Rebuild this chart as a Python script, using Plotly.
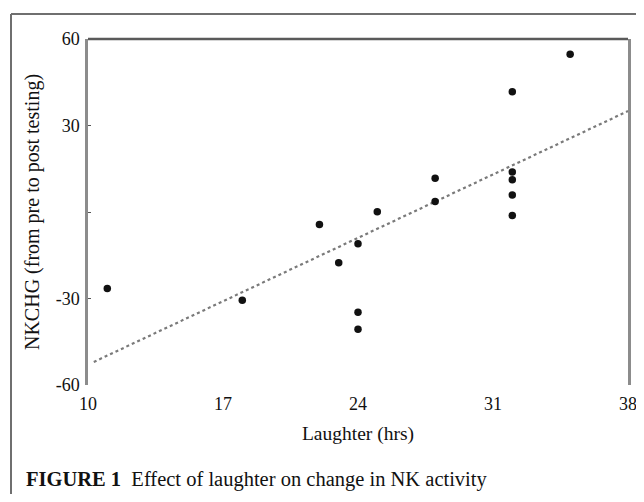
import plotly.graph_objects as go

# Data
laughter_hrs = [11, 18, 22, 23, 24, 24, 24, 25, 28, 28, 32, 32, 32, 32, 32, 35]
nkchg = [-26.5, -30.6, -4.3, -17.6, -11.0, -34.8, -40.7, 0.1, 11.7, 3.6,
         13.9, 11.2, 5.9, -1.2, 41.7, 54.7]
fit_x = [10.3, 38]
fit_y = [-52, 35]
x_ticks = [10, 17, 24, 31, 38]
y_ticks = [-60, -30, 0, 30, 60]
y_ticktext = ["-60", "-30", "", "30", "60"]

FONT = "Liberation Serif"
W, H = 628, 486  # page body adds an 8px margin on every side

fig = go.Figure()
fig.add_trace(go.Scatter(
    x=fit_x, y=fit_y, mode="lines",
    line=dict(color="#7a7a7a", width=2.2, dash="dot"),
    showlegend=False, hoverinfo="skip"))
fig.add_trace(go.Scatter(
    x=laughter_hrs, y=nkchg, mode="markers",
    marker=dict(color="#111111", size=7.5),
    showlegend=False))

fig.update_layout(
    width=W, height=H,
    margin=dict(l=0, r=0, t=0, b=0, autoexpand=False),
    paper_bgcolor="white", plot_bgcolor="white",
    font=dict(family=FONT, size=18, color="#111"),
    xaxis=dict(domain=[80 / W, 620 / W], range=[10, 38], tickvals=x_ticks,
               showgrid=False, zeroline=False, showline=False, ticks="",
               ticklabelstandoff=6, tickfont=dict(size=18), automargin=False,
               ticklabeloverflow="allow",
               title=dict(text="Laughter (hrs)", font=dict(size=19.5), standoff=13)),
    yaxis=dict(domain=[(H - 377) / H, (H - 31) / H], range=[-60, 60],
               tickvals=y_ticks, ticktext=y_ticktext, automargin=False,
               showgrid=False, zeroline=False, showline=True, mirror=True,
               linecolor="#8c8c8c", linewidth=2.5, ticks="inside", ticklen=3,
               tickcolor="#555", tickfont=dict(size=18), ticklabelstandoff=2,
               title=dict(text="NKCHG (from pre to post testing)",
                          font=dict(size=20), standoff=11)),
)

# top border of plot area
fig.add_shape(type="line", xref="x domain", yref="y domain", x0=0, x1=1, y0=1, y1=1,
              line=dict(color="#5a5a5a", width=2.5))
# outer figure frame (left and top edges)
fx, fy = 3 / W, (H - 6) / H
fig.add_shape(type="line", xref="paper", yref="paper", x0=fx, x1=fx,
              y0=fy, y1=0, line=dict(color="#6f6f6f", width=2))
fig.add_shape(type="line", xref="paper", yref="paper", x0=fx, x1=1,
              y0=fy, y1=fy, line=dict(color="#6f6f6f", width=2))

fig.add_annotation(
    xref="paper", yref="paper", x=16 / W, y=(H - 471) / H,
    xanchor="left", yanchor="middle",
    text="<b>FIGURE 1</b>  Effect of laughter on change in NK activity",
    showarrow=False, font=dict(family=FONT, size=20.5, color="#111"))

fig.write_html("out.html")
